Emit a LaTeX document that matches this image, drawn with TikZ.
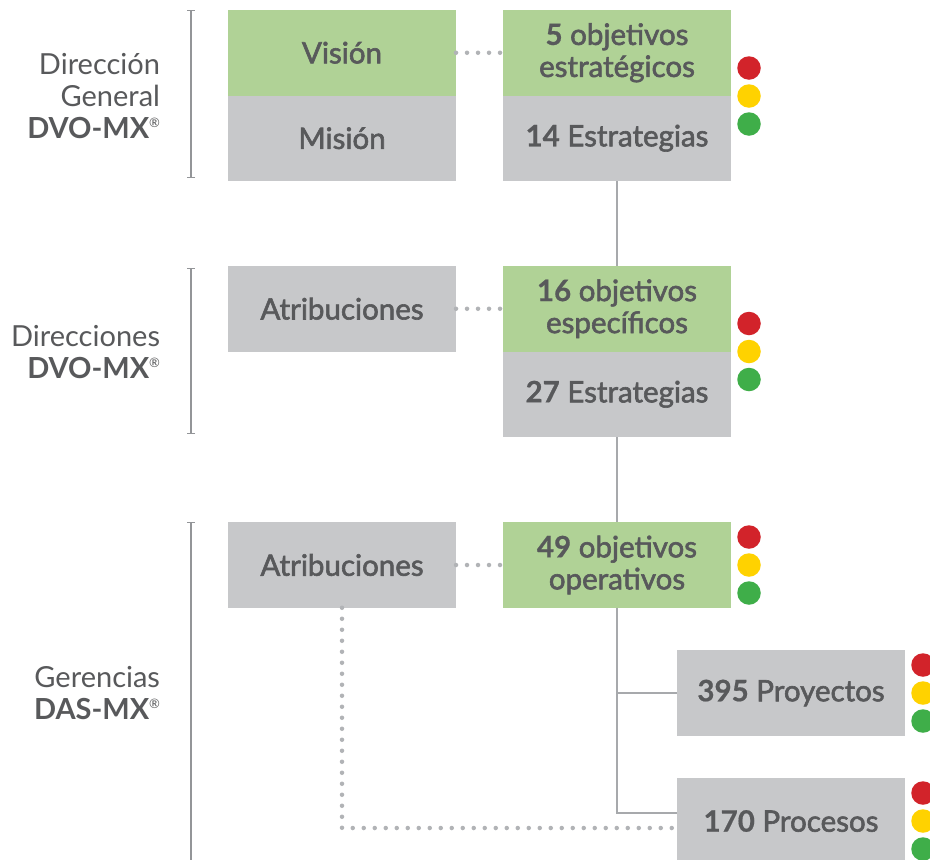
\documentclass[tikz,border=0pt]{standalone}
\usepackage{fontspec}
\setmainfont{Lato}
\newfontfamily\medio{Lato}[FakeBold=2]
\usetikzlibrary{positioning,arrows.meta}
\definecolor{verdecaja}{HTML}{B0D296}
\definecolor{griscaja}{HTML}{C7C8CA}
\definecolor{texto}{HTML}{58595B}
\definecolor{linea}{HTML}{A7A9AC}
\definecolor{puntos}{HTML}{B1B3B6}
\definecolor{llave}{HTML}{939598}
\definecolor{rojo}{HTML}{D2232A}
\definecolor{ambar}{HTML}{FFD200}
\definecolor{verde}{HTML}{3FAE49}
\NewDocumentCommand{\cifra}{m}{{\fontspec{Lato}[FakeBold=0.6]\bfseries #1}}
\NewDocumentCommand{\marca}{}{\raisebox{0.75ex}{\fontsize{13}{13}\selectfont\textregistered}}
\tikzset{/PE/caja/.style={
	shape=rectangle, inner sep=0, outer sep=0, minimum width=228pt, minimum height=85.5pt,
	text=texto, align=center, font=\medio\fontsize{29.5}{32}\selectfont
}}
\tikzset{/PE/verde/.style={/PE/caja, fill=verdecaja}}
\tikzset{/PE/gris/.style={/PE/caja, fill=griscaja}}
\tikzset{/PE/luz/.style={shape=circle, inner sep=0, outer sep=0, minimum size=23.5pt}}
\tikzset{/PE/etiqueta/.style={
	inner sep=0, outer sep=0, anchor=east, align=right, text=texto, font=\fontsize{29}{32}\selectfont
}}
\tikzset{/PE/tronco/.style={draw=linea, line width=2.6pt}}
\tikzset{/PE/punteado/.style={draw=puntos, line width=4.5pt, line cap=round, dash pattern=on 0pt off 11pt}}
\tikzset{/PE/llave/.style={draw=llave, line width=1.2pt, {Bar[width=8pt]}-{Bar[width=8pt]}}}
\NewDocumentCommand{\semaforo}{m m}{%
	\path (#2) ++(0,-28) node[/PE/luz, fill=rojo] (#1-r) {};
	\path (#2) node[/PE/luz, fill=ambar] (#1-a) {};
	\path (#2) ++(0,28) node[/PE/luz, fill=verde] (#1-v) {};
}

\begin{document}
\begin{tikzpicture}[x=1pt, y=-1pt]
				\useasboundingbox[fill=white] (0,0) rectangle (930,860);
				% niveles
				\path (160,96) node[/PE/etiqueta] (dg) {Dirección\\General\\\textbf{DVO-MX}\marca};
				\path (160,352) node[/PE/etiqueta] (dir) {Direcciones\\\textbf{DVO-MX}\marca};
				\path (160,693) node[/PE/etiqueta] (ger) {Gerencias\\\textbf{DAS-MX}\marca};
				\draw[/PE/llave] (191,10) -- (191,178);
				\draw[/PE/llave] (191,268) -- (191,434);
				\draw[/PE/llave] (191,522) -- (191,880);
				% direccion general
				\path (342,52.75) node[/PE/verde] (vision) {Visión};
				\path (vision.south) node[/PE/gris, anchor=north] (mision) {Misión};
				\path (vision) ++(275,0) node[/PE/verde] (objest) {\cifra{5} objetivos\\estratégicos};
				\path (objest.south) node[/PE/gris, anchor=north] (estr1) {\cifra{14} Estrategias};
				\semaforo{s1}{749,96}
				% direcciones
				\path (342,308.75) node[/PE/gris] (atrib1) {Atribuciones};
				\path (atrib1) ++(275,0) node[/PE/verde] (objesp) {\cifra{16} objetivos\\específicos};
				\path (objesp.south) node[/PE/gris, anchor=north] (estr2) {\cifra{27} Estrategias};
				\semaforo{s2}{749,351.5}
				% gerencias
				\path (342,565) node[/PE/gris] (atrib2) {Atribuciones};
				\path (atrib2) ++(275,0) node[/PE/verde] (objop) {\cifra{49} objetivos\\operativos};
				\semaforo{s3}{749,565}
				\path (791,693) node[/PE/gris] (proy) {\cifra{395} Proyectos};
				\semaforo{s4}{923,693}
				\path (791,821) node[/PE/gris] (proc) {\cifra{170} Procesos};
				\semaforo{s5}{923,821}
				% conectores
				\draw[/PE/tronco] (estr1) -- (objesp);
				\draw[/PE/tronco] (estr2) -- (objop);
				\draw[/PE/tronco] (objop.south) |- (proy.west);
				\draw[/PE/tronco] (objop.south) |- ([yshift=8pt]proc.west);
				\draw[/PE/punteado] (vision) -- (objest);
				\draw[/PE/punteado] (atrib1) -- (objesp);
				\draw[/PE/punteado] (atrib2) -- (objop);
				\draw[/PE/punteado] (atrib2.south) |- ([yshift=-7pt]proc.west);
			\end{tikzpicture}
\end{document}
